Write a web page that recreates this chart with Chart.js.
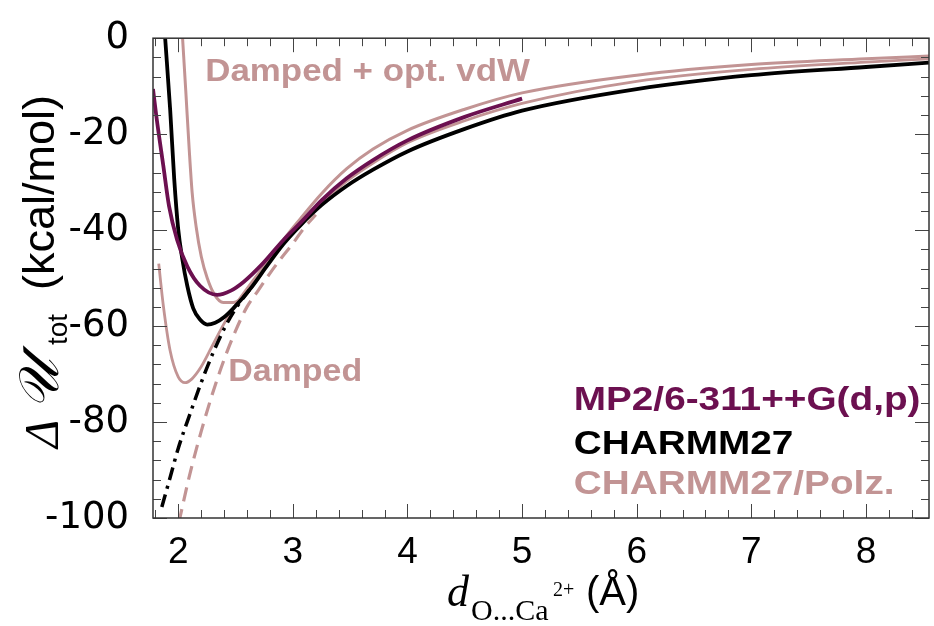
<!DOCTYPE html>
<html lang="en">
<head>
<meta charset="UTF-8">
<title>O...Ca2+ interaction energy</title>
<script src="https://cdn.jsdelivr.net/npm/chart.js@4.4.1/dist/chart.umd.min.js"></script>
<style>
  body { margin: 0; background: #fff; }
  #wrap { width: 934px; height: 626px; position: relative; }
</style>
</head>
<body>
<div id="wrap"><canvas id="chart"></canvas></div>
<script>
// distance d(O...Ca2+) in Angstrom, energy in kcal/mol
const mp2X = [1.78, 1.81, 1.87, 1.92, 1.99, 2.08, 2.19, 2.34, 2.46, 2.57, 2.72, 2.92, 3.07, 3.25, 3.47, 3.7, 4.0, 4.5, 5.0];
const mp2Y = [-10.6, -16.4, -26.6, -35.0, -42.0, -47.6, -51.6, -53.5, -52.6, -50.8, -47.4, -42.0, -38.4, -33.8, -29.2, -25.4, -21.3, -16.4, -12.6];

const charmmX = [1.886, 1.93, 1.965, 2.0, 2.035, 2.079, 2.131, 2.192, 2.253, 2.323, 2.402, 2.481, 2.63, 2.77, 2.918, 3.066, 3.25, 3.47, 3.7, 4.0, 4.5, 5.0, 6.0, 7.0, 8.0, 8.55];
const charmmY = [0, -15.0, -29.3, -39.8, -45.9, -51.6, -56.3, -58.7, -59.7, -59.3, -58.1, -56.3, -52.2, -47.6, -42.9, -39.0, -34.8, -30.8, -27.4, -23.6, -18.9, -15.1, -10.6, -7.7, -6.0, -5.1];

// CHARMM27 short-range branch (dash-dot)
const charmmDashX = [1.857, 1.93, 2.0, 2.1, 2.2, 2.3, 2.4, 2.5, 2.62];
const charmmDashY = [-97.7, -91.5, -85.5, -78.5, -71.8, -65.8, -60.6, -56.4, -52.5];

// CHARMM27/Polz. : damped + optimised vdW
const optX = [2.038, 2.066, 2.096, 2.122, 2.157, 2.201, 2.253, 2.315, 2.393, 2.48, 2.603, 2.746, 2.92, 3.066, 3.25, 3.47, 3.7, 4.0, 4.5, 5.0, 6.0, 7.0, 8.0, 8.55];
const optY = [0, -11.0, -23.2, -32.3, -39.4, -45.5, -50.0, -53.4, -55.1, -55.1, -53.0, -48.4, -42.0, -37.6, -32.4, -27.2, -23.1, -19.2, -14.8, -11.4, -7.7, -5.5, -4.3, -3.7];

// CHARMM27/Polz. : damped
const dampX = [1.83, 1.87, 1.93, 2.0, 2.06, 2.12, 2.2, 2.3, 2.4, 2.5, 2.6, 2.7, 2.85, 3.0, 3.25, 3.47, 3.7, 4.0, 4.5, 5.0, 6.0, 7.0, 8.0, 8.55];
const dampY = [-47.0, -55.7, -65.2, -70.6, -71.8, -71.0, -68.5, -64.0, -59.5, -55.6, -52.2, -49.0, -44.6, -40.6, -34.3, -29.8, -26.0, -21.8, -17.2, -13.6, -9.0, -6.5, -5.0, -4.3];

// CHARMM27/Polz. : undamped (dashed)
const bareX = [2.005, 2.1, 2.2, 2.3, 2.4, 2.5, 2.6, 2.7, 2.8, 2.9, 3.0, 3.1, 3.2];
const bareY = [-101, -91, -82, -74, -67, -61, -56, -52.5, -49, -45.8, -42.8, -39.5, -36.8];

const xTicks = [2, 3, 4, 5, 6, 7, 8];
const yTicks = [0, -20, -40, -60, -80, -100];

const purple = '#6c1050';
const pink = '#c29494';

function pts(xs, ys) {
  return xs.map((x, i) => ({ x: x, y: ys[i] }));
}

function curve(xs, ys, color, width, dash) {
  return {
    data: pts(xs, ys),
    showLine: true,
    borderColor: color,
    borderWidth: width,
    borderDash: dash || [],
    pointRadius: 0,
    fill: false,
    cubicInterpolationMode: 'monotone'
  };
}

function text(ctx, str, x, y, font, color, sx) {
  ctx.save();
  ctx.translate(x, y);
  ctx.scale(sx || 1, 1);
  ctx.font = font;
  ctx.fillStyle = color;
  ctx.textBaseline = 'alphabetic';
  ctx.textAlign = 'left';
  ctx.fillText(str, 0, 0);
  ctx.restore();
}

// inward ticks on all four sides plus the box
const frame = {
  id: 'frame',
  afterDatasetsDraw(chart) {
    const { ctx, chartArea: a, scales: { x, y } } = chart;
    ctx.save();
    ctx.strokeStyle = '#444';
    ctx.lineWidth = 1;
    ctx.beginPath();
    for (let k = 9; k <= 42; k++) {
      const px = Math.round(x.getPixelForValue(k / 5)) + 0.5;
      const len = k % 5 === 0 ? 14 : 8;
      ctx.moveTo(px, a.bottom); ctx.lineTo(px, a.bottom - len);
      ctx.moveTo(px, a.top); ctx.lineTo(px, a.top + len);
    }
    for (let k = 0; k <= 25; k++) {
      const py = Math.round(y.getPixelForValue(-4 * k)) + 0.5;
      const len = k % 5 === 0 ? 14 : 8;
      ctx.moveTo(a.left, py); ctx.lineTo(a.left + len, py);
      ctx.moveTo(a.right, py); ctx.lineTo(a.right - len, py);
    }
    ctx.stroke();
    ctx.lineWidth = 1.5;
    ctx.strokeStyle = '#333';
    ctx.strokeRect(a.left, a.top, a.right - a.left, a.bottom - a.top);
    ctx.restore();
  }
};

// in-plot labels and the two axis titles
const labels = {
  id: 'labels',
  afterDraw(chart) {
    const { ctx, scales: { x, y } } = chart;
    const bold = s => 'bold ' + s + 'px "Liberation Sans", Arial, sans-serif';

    text(ctx, 'Damped + opt. vdW', x.getPixelForValue(2.236), y.getPixelForValue(-8.9), bold(32), pink, 1.09);
    text(ctx, 'Damped', x.getPixelForValue(2.437), y.getPixelForValue(-71.5), bold(32), pink, 1.06);

    const lx = x.getPixelForValue(5.45);
    text(ctx, 'MP2/6-311++G(d,p)', lx, y.getPixelForValue(-77.4), bold(34), purple, 1.14);
    text(ctx, 'CHARMM27', lx, y.getPixelForValue(-86.6), bold(34), '#000', 1.14);
    text(ctx, 'CHARMM27/Polz.', lx, y.getPixelForValue(-95.1), bold(34), pink, 1.14);

    // y title, rotated
    ctx.save();
    ctx.translate(58, 448);
    ctx.rotate(-Math.PI / 2);
    text(ctx, '\u0394', 0, 0, 'italic 48px "Liberation Serif", serif', '#000');
    text(ctx, '\uD835\uDCB0', 38, 0, 'italic 56px "DejaVu Serif", "DejaVu Sans", serif', '#000');
    text(ctx, 'tot', 103, 9, '28px "Liberation Sans", Arial, sans-serif', '#000');
    text(ctx, '(kcal/mol)', 158, -4, '45px "Liberation Sans", Arial, sans-serif', '#000');
    ctx.restore();

    // x title
    text(ctx, 'd', 447, 606, 'italic 44px "Liberation Serif", serif', '#000');
    text(ctx, 'O...Ca', 471, 620, '30px "Liberation Serif", serif', '#000');
    text(ctx, '2+', 553, 596, '20px "Liberation Serif", serif', '#000');
    text(ctx, '(\u00C5)', 586, 605, '40px "Liberation Sans", Arial, sans-serif', '#000');
  }
};

new Chart(document.getElementById('chart'), {
  type: 'scatter',
  data: {
    datasets: [
      curve(mp2X, mp2Y, purple, 3.8),
      curve(charmmX, charmmY, '#000', 3.8),
      curve(charmmDashX, charmmDashY, '#000', 3.5, [13, 6, 3, 6]),
      curve(optX, optY, pink, 3),
      curve(dampX, dampY, pink, 2.8),
      curve(bareX, bareY, pink, 3.2, [14, 8])
    ]
  },
  options: {
    responsive: true,
    maintainAspectRatio: false,
    animation: false,
    layout: { padding: { left: 0, top: 26, right: 5, bottom: 0 } },
    plugins: { legend: { display: false }, tooltip: { enabled: false } },
    scales: {
      x: {
        type: 'linear',
        min: 1.78,
        max: 8.55,
        afterBuildTicks: s => { s.ticks = xTicks.map(v => ({ value: v })); },
        afterFit: s => { s.height = 108; },
        grid: { display: false },
        border: { display: false },
        ticks: {
          padding: 5,
          color: '#000',
          maxRotation: 0,
          font: { family: '"Liberation Sans Narrow", "Liberation Sans", Arial, sans-serif', size: 37 }
        }
      },
      y: {
        type: 'linear',
        min: -100,
        max: 0,
        afterBuildTicks: s => { s.ticks = yTicks.map(v => ({ value: v })); },
        afterFit: s => { s.width = 153; },
        grid: { display: false },
        border: { display: false },
        ticks: {
          padding: 16,
          color: '#000',
          font: { family: '"DejaVu Sans", sans-serif', size: 37 }
        }
      }
    }
  },
  plugins: [frame, labels]
});
</script>
</body>
</html>
